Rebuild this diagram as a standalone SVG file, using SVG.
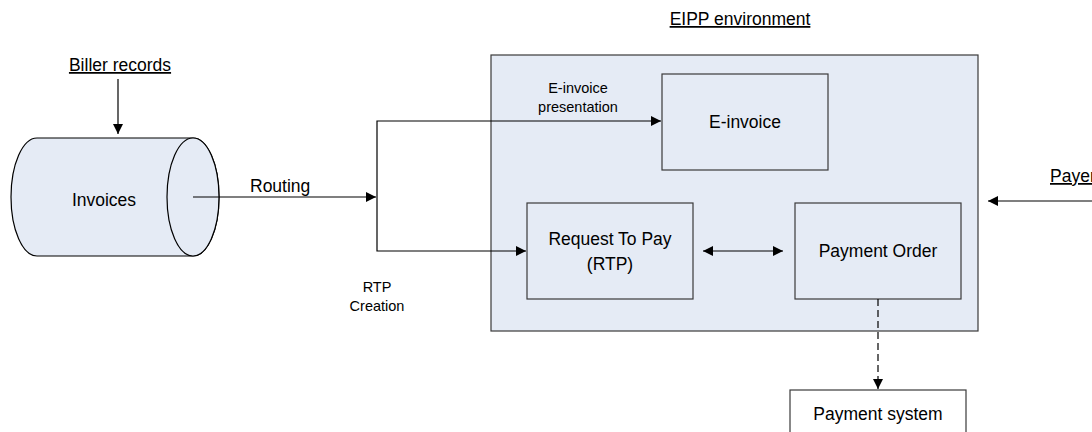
<svg xmlns="http://www.w3.org/2000/svg" width="1092" height="432" viewBox="0 0 1092 432">
<style>
  .t{font-family:"Liberation Sans",Arial,sans-serif;fill:#000}
  .m{font-size:17.5px}
  .s{font-size:14.5px}
  .box{fill:#e5ebf5;stroke:#3a3a3a;stroke-width:1.2}
  .ln{fill:none;stroke:#000;stroke-width:1.2}
</style>
<defs>
  <marker id="ah" viewBox="0 0 10 10" refX="10" refY="5" markerWidth="10" markerHeight="10" markerUnits="userSpaceOnUse" orient="auto-start-reverse">
    <path d="M0,0 L10,5 L0,10 z" fill="#000"/>
  </marker>
</defs>
<rect width="1092" height="432" fill="#fff"/>

<g id="eipp">
  <rect class="box" x="491" y="55" width="487" height="276"/>
  <text class="t m" x="740" y="25" text-anchor="middle" text-decoration="underline">EIPP environment</text>
</g>

<g id="invoices">
  <path d="M37,138 L193,138 A26,59 0 0 1 193,256 L37,256 A26,59 0 0 1 37,138 z" fill="#e5ebf5" stroke="#000" stroke-width="1.2"/>
  <ellipse cx="193" cy="197" rx="26" ry="59" fill="#e5ebf5" stroke="#000" stroke-width="1.2"/>
  <text class="t m" x="104" y="206" text-anchor="middle">Invoices</text>
</g>

<g id="biller">
  <text class="t m" x="120" y="71" text-anchor="middle" text-decoration="underline">Biller records</text>
</g>

<g id="einvoice">
  <rect class="box" x="662" y="74" width="166" height="96"/>
  <text class="t m" x="745" y="128" text-anchor="middle">E-invoice</text>
</g>

<g id="rtp">
  <rect class="box" x="527" y="203" width="166" height="96"/>
  <text class="t m" x="610" y="245" text-anchor="middle">Request To Pay</text>
  <text class="t m" x="610" y="270" text-anchor="middle">(RTP)</text>
</g>

<g id="payorder">
  <rect class="box" x="795" y="203" width="166" height="96"/>
  <text class="t m" x="878" y="257" text-anchor="middle">Payment Order</text>
</g>

<g id="paysystem">
  <rect x="790" y="390" width="176" height="50" fill="#fff" stroke="#3a3a3a" stroke-width="1.2"/>
  <text class="t m" x="878" y="420" text-anchor="middle">Payment system</text>
</g>

<g id="payer">
  <text class="t m" x="1050" y="182" text-decoration="underline">Payer</text>
</g>

<g id="connectors">
  <line class="ln" x1="118" y1="79" x2="118" y2="134" marker-end="url(#ah)"/>
  <line class="ln" x1="193" y1="197" x2="376" y2="197" marker-end="url(#ah)"/>
  <polyline class="ln" points="661,121 377,121 377,251 526,251" marker-start="url(#ah)" marker-end="url(#ah)"/>
  <line class="ln" x1="703" y1="251" x2="783" y2="251" marker-start="url(#ah)" marker-end="url(#ah)"/>
  <line class="ln" x1="1092" y1="201" x2="988" y2="201" marker-end="url(#ah)"/>
  <line class="ln" x1="878" y1="299" x2="878" y2="389" stroke-dasharray="7,4" marker-end="url(#ah)"/>
  <text class="t m" x="250" y="192">Routing</text>
  <text class="t s" x="578" y="93" text-anchor="middle">E-invoice</text>
  <text class="t s" x="578" y="112" text-anchor="middle">presentation</text>
  <text class="t s" x="377" y="292" text-anchor="middle">RTP</text>
  <text class="t s" x="377" y="311" text-anchor="middle">Creation</text>
</g>
</svg>
